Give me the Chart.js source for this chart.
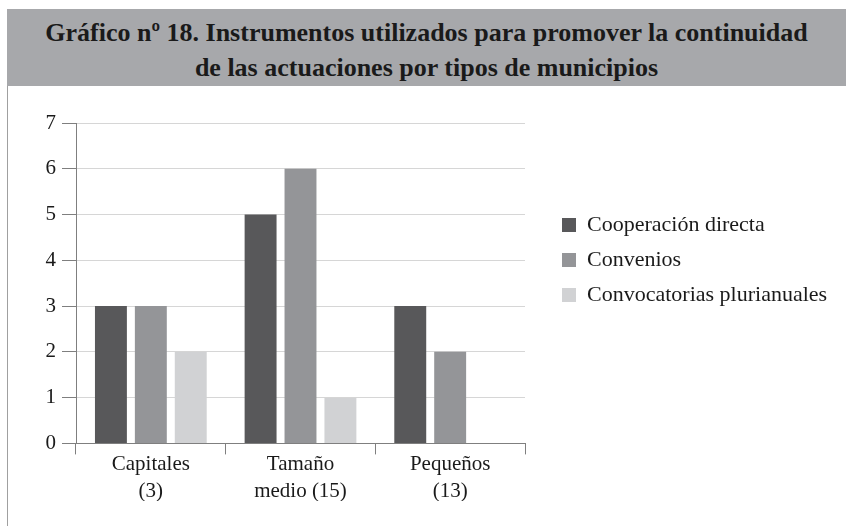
<!DOCTYPE html>
<html>
<head>
<meta charset="utf-8">
<script src="https://cdn.jsdelivr.net/npm/chart.js@4"></script>
<style>
  html, body { margin: 0; padding: 0; background: #fff; }
  body { width: 846px; height: 526px; position: relative; overflow: hidden; }
  #banner {
    position: absolute; left: 7px; top: 9px; right: 0; height: 77px;
    background: #a7a8ab; color: #1a1a1a;
    font-family: "Liberation Serif", serif; font-weight: bold; font-size: 26px;
    line-height: 35px; text-align: center; box-sizing: border-box; padding-top: 6px;
    z-index: 2;
  }
  #border { position: absolute; left: 7px; top: 86px; width: 1px; bottom: 0; background: #a0a0a0; z-index: 2; }
  #wrap { position: absolute; left: 0; top: 0; width: 846px; height: 526px; }
</style>
</head>
<body>
<div id="banner">Gráfico nº 18. Instrumentos utilizados para promover la continuidad<br>de las actuaciones por tipos de municipios</div>
<div id="border"></div>
<div id="wrap"><canvas id="chart"></canvas></div>
<script>
// Data
let categories = [['Capitales', '(3)'], ['Tamaño', 'medio (15)'], ['Pequeños', '(13)']];
let cooperacionDirecta = [3, 5, 3];
let convenios = [3, 6, 2];
let convocatoriasPlurianuales = [2, 1, 0];
let seriesNames = ['Cooperación directa', 'Convenios', 'Convocatorias plurianuales'];
let yTicks = [0, 1, 2, 3, 4, 5, 6, 7];

let colors = ['#58585a', '#949598', '#d1d2d4'];
let fontFamily = '"Liberation Serif", serif';

// move legend to where the reference has it (and give it room so nothing is clipped)
let legendShift = {
  id: 'legendShift',
  afterLayout(chart) {
    let lg = chart.legend;
    lg.left = 549; lg.right = 846;
    lg.top = 201; lg.bottom = 526;
  }
};

let ctx = document.getElementById('chart');

new Chart(ctx, {
  type: 'bar',
  data: {
    labels: categories,
    datasets: [
      { label: seriesNames[0], data: cooperacionDirecta, backgroundColor: colors[0] },
      { label: seriesNames[1], data: convenios, backgroundColor: colors[1] },
      { label: seriesNames[2], data: convocatoriasPlurianuales, backgroundColor: colors[2] }
    ]
  },
  options: {
    responsive: true,
    maintainAspectRatio: false,
    animation: false,
    datasets: { bar: { barPercentage: 0.8, categoryPercentage: 0.8 } },
    layout: { padding: { top: 123, right: 146, bottom: 25, left: 0 } },
    plugins: {
      tooltip: { enabled: false },
      legend: {
        position: 'right',
        fullSize: false,
        align: 'start',
        labels: {
          boxWidth: 14, boxHeight: 14, padding: 13,
          color: '#1a1a1a',
          font: { family: fontFamily, size: 22 }
        }
      }
    },
    scales: {
      x: {
        offset: true,
        grid: { display: true, offset: true, drawOnChartArea: false, tickLength: 11, color: '#7f7f7f' },
        border: { color: '#7f7f7f' },
        ticks: { color: '#1a1a1a', padding: -4, maxRotation: 0, font: { family: fontFamily, size: 21, lineHeight: 1.3 } }
      },
      y: {
        min: 0, max: 7,
        afterFit(scale) { scale.width = 76; },
        afterBuildTicks(scale) { scale.ticks = yTicks.map(v => ({ value: v })); },
        grid: { color: '#d6d6d6', tickColor: '#7f7f7f', tickLength: 14 },
        border: { color: '#7f7f7f' },
        ticks: { color: '#1a1a1a', padding: 6, font: { family: fontFamily, size: 21 } }
      }
    }
  },
  plugins: [legendShift]
});
</script>
</body>
</html>
